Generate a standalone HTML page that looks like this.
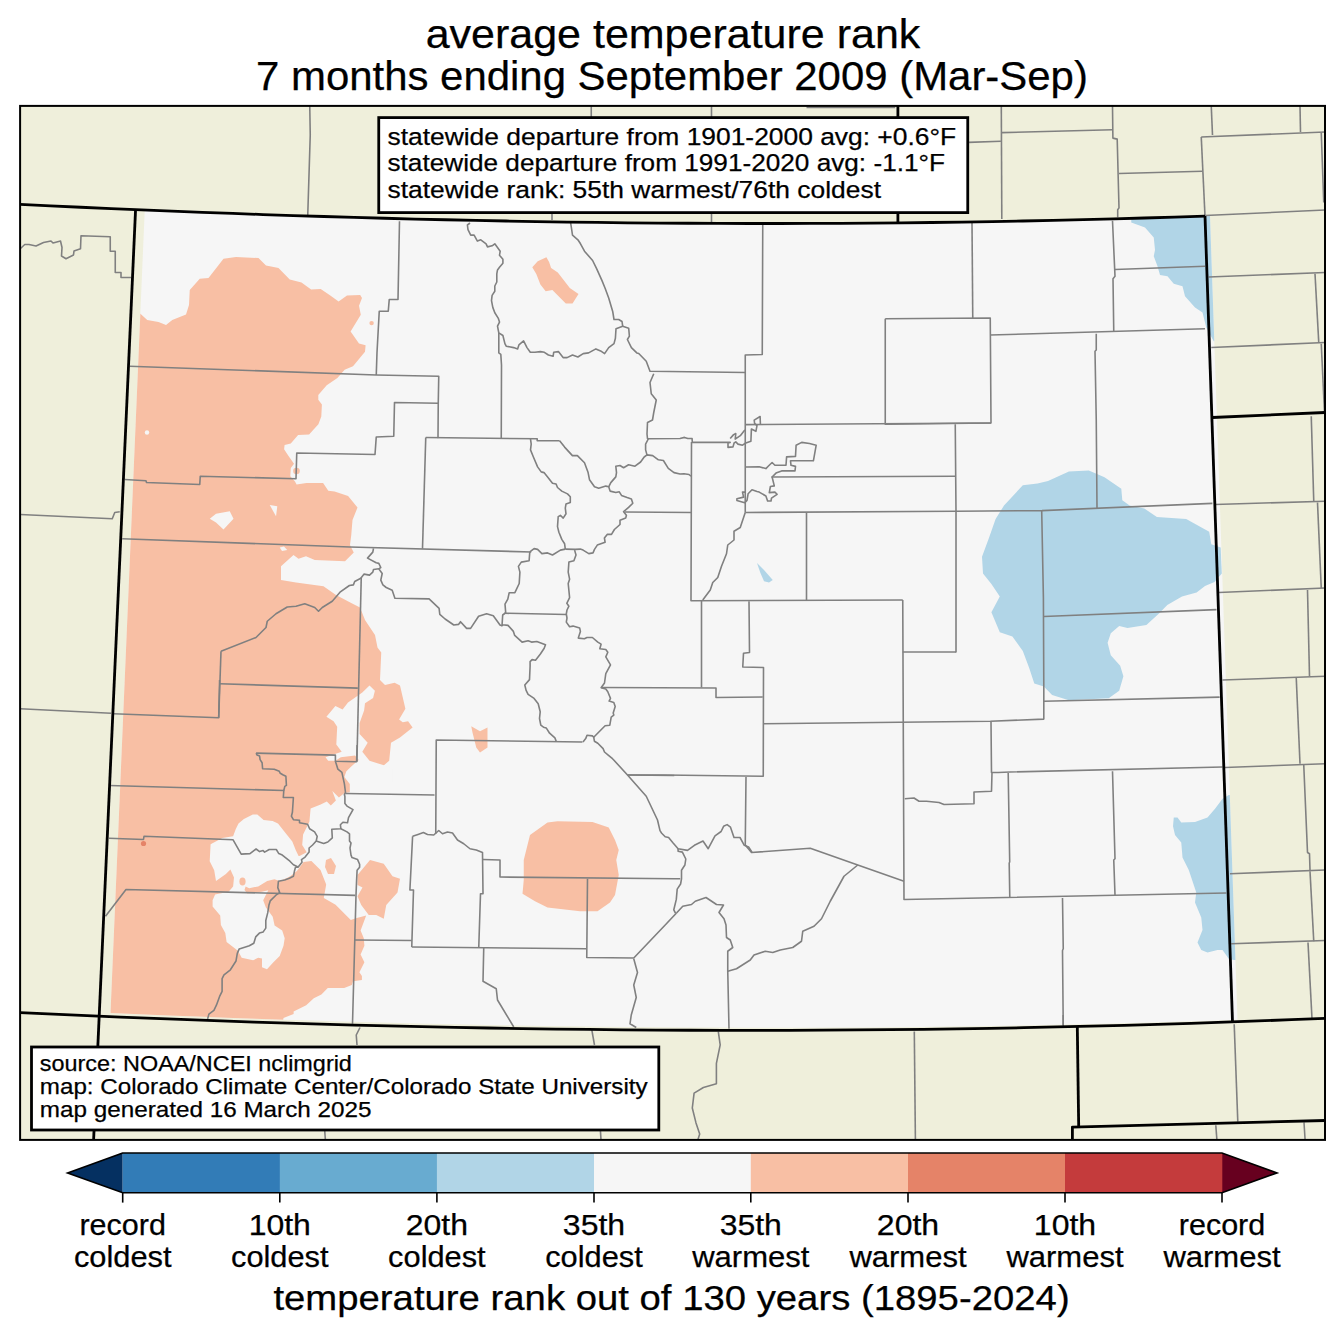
<!DOCTYPE html><html><head><meta charset="utf-8"><style>html,body{margin:0;padding:0;background:#fff;}svg{display:block;} text{font-family:"Liberation Sans",sans-serif;fill:#000;stroke:#000;stroke-width:0.25px;}</style></head><body>
<svg width="1344" height="1337" viewBox="0 0 1344 1337">
<rect width="1344" height="1337" fill="#ffffff"/>
<text x="425.7" y="48" font-size="40.1" textLength="494.6" lengthAdjust="spacingAndGlyphs">average temperature rank</text>
<text x="256" y="90.2" font-size="40.1" textLength="831.86" lengthAdjust="spacingAndGlyphs">7 months ending September 2009 (Mar-Sep)</text>
<defs><clipPath id="fr"><rect x="20" y="105.5" width="1305" height="1034"/></clipPath>
<clipPath id="dc"><polygon points="144.75,210.02 172.06,211.13 199.38,212.21 226.69,213.23 254.01,214.22 281.32,215.15 308.63,216.04 335.95,216.88 363.26,217.67 390.58,218.42 417.89,219.11 445.21,219.76 472.52,220.36 499.83,220.9 527.15,221.4 554.46,221.84 581.78,222.24 609.09,222.58 636.4,222.87 663.72,223.1 691.03,223.28 718.35,223.41 745.66,223.48 772.97,223.5 800.29,223.46 827.6,223.37 854.92,223.22 882.23,223.01 909.54,222.74 936.86,222.42 964.17,222.04 991.49,221.6 1018.8,221.09 1046.12,220.53 1073.43,219.91 1100.74,219.23 1128.06,218.48 1155.37,217.68 1182.69,216.81 1210,215.88 1210,215.88 1237.5,1019.72 1208.6,1020.69 1179.71,1021.59 1150.81,1022.43 1121.91,1023.21 1093.01,1023.92 1064.12,1024.57 1035.22,1025.16 1006.32,1025.68 977.42,1026.15 948.53,1026.55 919.63,1026.89 890.73,1027.17 861.83,1027.39 832.94,1027.55 804.04,1027.65 775.14,1027.69 746.24,1027.67 717.35,1027.59 688.45,1027.45 659.55,1027.26 630.65,1027.01 601.76,1026.7 572.86,1026.33 543.96,1025.91 515.06,1025.43 486.17,1024.9 457.27,1024.31 428.37,1023.67 399.47,1022.97 370.58,1022.21 341.68,1021.41 312.78,1020.54 283.88,1019.63 254.99,1018.66 226.09,1017.64 197.19,1016.57 168.29,1015.44 139.4,1014.27 110.5,1013.04"/></clipPath></defs>
<g clip-path="url(#fr)">
<rect x="0" y="0" width="1344" height="1337" fill="#efefdb"/>
<polygon points="144.75,210.02 172.06,211.13 199.38,212.21 226.69,213.23 254.01,214.22 281.32,215.15 308.63,216.04 335.95,216.88 363.26,217.67 390.58,218.42 417.89,219.11 445.21,219.76 472.52,220.36 499.83,220.9 527.15,221.4 554.46,221.84 581.78,222.24 609.09,222.58 636.4,222.87 663.72,223.1 691.03,223.28 718.35,223.41 745.66,223.48 772.97,223.5 800.29,223.46 827.6,223.37 854.92,223.22 882.23,223.01 909.54,222.74 936.86,222.42 964.17,222.04 991.49,221.6 1018.8,221.09 1046.12,220.53 1073.43,219.91 1100.74,219.23 1128.06,218.48 1155.37,217.68 1182.69,216.81 1210,215.88 1210,215.88 1237.5,1019.72 1208.6,1020.69 1179.71,1021.59 1150.81,1022.43 1121.91,1023.21 1093.01,1023.92 1064.12,1024.57 1035.22,1025.16 1006.32,1025.68 977.42,1026.15 948.53,1026.55 919.63,1026.89 890.73,1027.17 861.83,1027.39 832.94,1027.55 804.04,1027.65 775.14,1027.69 746.24,1027.67 717.35,1027.59 688.45,1027.45 659.55,1027.26 630.65,1027.01 601.76,1026.7 572.86,1026.33 543.96,1025.91 515.06,1025.43 486.17,1024.9 457.27,1024.31 428.37,1023.67 399.47,1022.97 370.58,1022.21 341.68,1021.41 312.78,1020.54 283.88,1019.63 254.99,1018.66 226.09,1017.64 197.19,1016.57 168.29,1015.44 139.4,1014.27 110.5,1013.04" fill="#f6f6f6"/>
<g clip-path="url(#dc)">
<polygon points="140.4,313.75 147.25,320 158.5,322 166,325 172.25,320 186,314.5 189,305 189.75,290 199.75,278.75 208.5,278 223.5,258.75 236,257 258.5,258 266,265.5 278.5,268 289.75,279.5 301.5,282.4 311.1,289.6 320.7,289 330.3,295.6 338.6,301.5 347,295.6 360.2,295 362,298 359,305.7 360.8,314.7 350.6,331.5 359,343.4 365.6,345.2 365,351.8 353,366.2 344.6,369.8 337.4,378.1 326.7,385.3 318.3,394.9 318.3,399.7 321.9,404.5 321.3,416.4 318.4,424.2 312.7,430.4 309.1,434.6 298.1,435.1 290.8,443.4 284.6,445 284.1,449.2 288.2,455.4 294,463.8 290.8,467.9 290.3,476.3 295,481.5 296.6,484.6 306.5,483 323.1,483 328.3,490.8 334.6,491.4 348.1,496 357.5,507.5 352.5,520 351.25,535 350,545 353.75,552.5 345,561.25 314.75,560 306,556.25 298.5,558.75 293.5,555 281,566.25 281,580 296,582.5 323.5,586.25 336,595 350.25,602.5 360,607.5 365,620 375,635 377.5,647.5 381.25,652.5 380,680 385,685 394.6,682.7 400,685.4 405.4,708.7 399.1,719.5 402.7,722.2 408.1,721.3 412.6,727.6 400,737.4 391,742.8 389.2,760.8 383.9,765.3 369.3,782 366,916 360.6,930.6 363.8,938.2 364.4,945.8 360.6,954.6 364.4,962.2 359.4,972.3 361.9,976.1 361.9,979.9 353,981.2 351.8,985 344.2,988.1 327.8,988.1 321.4,994.5 313.8,998.3 306.2,1005.2 293.6,1011.5 293.6,1014.1 283.5,1017.9 280,1040 90,1040 120,313.75" fill="#f8bfa4"/>
<polygon points="392.8,768.5 383.9,765.3 369.5,760.8 362.3,751.8 367.7,742.8 359.6,733.9 359.6,723.1 364.1,710.5 365,703.3 373.1,698 374.9,690.8 369.5,685.4 362.3,692.6 348,702.4 342.6,709.6 335.4,706 326.4,716.8 333.6,721.3 337.2,726.7 336.3,744.6 341.7,751.8 325.5,757.2 328.2,760.8 335.4,760.8 340.8,757.2 355.1,755.4 358.7,759.9 351.5,766.2 346.2,771.5 344.4,776.9 349.8,784.1 349.8,792.2 344.4,793.1 338.9,797.5 336.9,795.5 332.3,791 335.9,800.6 330.8,805.6 326.8,801.6 320.7,804.6 310.6,808.6 309.4,821.8 303.1,834.4 302.2,845.1 306.7,852.3 299.5,855.9 298.6,855.9 295.9,850.5 292.3,841.5 285.1,832.6 278,823.6 272.6,820.9 263.6,820 257.3,814.6 252.8,814.6 243.9,819.1 238.5,823.6 235.8,829 233.1,836.2 222.3,838 210.6,844.2 209.7,861.3 214.2,870.3 216,881 225.9,873.9 230.4,869.4 234,877.5 233.1,886.4 228.6,891.8 215.1,894.5 212.6,900.2 212.6,906.6 220.2,915.4 220.9,924.9 225.3,933.1 226.6,942 237.9,950.8 241.7,957.8 253.1,960.3 258.2,957.8 262,958.4 262,967.3 267,969.2 273.4,962.2 279.7,955.9 283.5,945.8 284.7,938.2 282.2,930.6 274.6,925.5 272.7,916.7 268.9,911.6 265.8,907.2 263.2,900.2 268.3,890.3 261.8,891.8 247.4,893.6 244.5,890 245.6,886.4 249.2,888.2 258.2,886.4 267.2,881 274.4,879.2 279.7,881 286.9,878 290.2,876.2 296.9,871.1 303.6,862.1 311.4,861 320.5,870.1 326.2,884.6 323.8,898.1 335.6,904.8 350.8,919.9 355.8,918.3 372,914 375,782 392.8,782" fill="#f6f6f6"/>
<polygon points="209.75,518.75 216,513.75 229.75,511.25 233.5,518.75 223.5,529.5 216,522.5" fill="#f6f6f6"/>
<polygon points="269.75,505 277.25,506.25 276,516.25" fill="#f6f6f6"/>
<polygon points="279.75,547.5 284,546.5 287.25,550 282,551" fill="#f6f6f6"/>
<circle cx="147" cy="432.5" r="2.2" fill="#f6f6f6"/>
<polygon points="357.5,875 370,860 383.75,863.75 392.5,876.25 400,878.75 397.5,892.5 386.25,905 383.75,918.75 376.25,915 368.75,915 361.25,905 357.5,896.25 362.5,887.5 357.5,885" fill="#f8bfa4"/>
<polygon points="530,835 547.5,822.5 557.5,821.25 592.5,822 608.75,827.5 615,840 618.75,850 616.25,860 618.75,875 615,895 610,902.5 597.5,911.25 580,911.25 547.5,907.5 535,901.25 522.5,893.75 523.75,880 523.75,860" fill="#f8bfa4"/>
<polygon points="532.3,267.2 537.7,261.2 546.4,257.2 549.1,261.9 551.1,267.9 557.8,272.6 569.8,288 578.5,294 572.5,303.4 565.8,303.4 552.4,290 545.7,291.3 540.4,284.6 536.3,273.9" fill="#f8bfa4"/>
<polygon points="471.25,726.25 480,731.25 487.5,727.5 487.5,747.5 480,752.5 476.25,747.5 472.5,732.5" fill="#f8bfa4"/>
<polygon points="326,860 331,858 336,866 334,874 328,874 325,867" fill="#f8bfa4"/>
<circle cx="371.6" cy="323.1" r="2.2" fill="#f8bfa4"/>
<circle cx="296.5" cy="471" r="3.3" fill="#f8bfa4"/>
<ellipse cx="242.5" cy="881.5" rx="3.1" ry="4" fill="#f8bfa4"/>
<circle cx="143.5" cy="843.5" r="2.6" fill="#e58368"/>
<polygon points="1131.25,210 1131.25,222.5 1145,227.5 1153.75,237.5 1155,250 1153.75,256.25 1157.5,266.25 1160,275 1167.5,276.25 1173.75,283.75 1182.5,286.25 1185,296.25 1195,307.5 1202.5,312.5 1206.25,327.5 1213.75,341.25 1240,341 1240,210" fill="#b1d5e7"/>
<polygon points="1022.8,485.2 1037.5,483.5 1048,481 1068.9,471.6 1088.8,470.5 1104.5,477.2 1121.3,488.7 1122.3,500.3 1129.6,505.5 1144.3,508.6 1156.9,517 1186.2,519.1 1209.2,531.7 1211.3,544.2 1220.7,547.4 1221.8,573.6 1214.5,581.9 1205,586.1 1196.6,592.4 1182,596.6 1167.3,605 1159,613.4 1146.4,624.9 1127.5,628 1119.2,625.9 1110.8,633.2 1107.6,642.7 1110.8,655.2 1120.2,665.7 1123.4,676.2 1119.2,690.8 1108.7,698.2 1068.9,700.3 1052.1,695 1043.8,686.6 1034.3,683.5 1029.1,667.8 1022.8,651 1012.4,636.4 999.8,632.2 991.4,612.3 999.8,596.6 991.4,584 983,573.6 982,556.8 989.3,536.9 995.6,519.1 1004,505.5" fill="#b1d5e7"/>
<polygon points="1173.75,817.5 1177.5,817.5 1181.25,822.5 1195,822 1207.5,817.5 1215,808.75 1222.5,798.75 1228.75,795 1245,795 1245,960 1233.75,960 1228.75,958.75 1222.5,950 1217.5,950 1207.5,952.5 1201.25,950 1197.5,942.5 1202.5,930 1201.25,917.5 1195,902.5 1196.25,892.5 1188.75,870 1182.5,857.5 1181.25,842.5 1175,835 1173,826.25" fill="#b1d5e7"/>
<polygon points="757,563 764,570 772.75,580 769,582.5 764,581.25 760.25,572.5" fill="#b1d5e7"/>
</g>
<g fill="none" stroke="#808080" stroke-width="1.6" stroke-linejoin="round">
<polyline points="309.75,106 310.25,135 307.75,215"/>
<polyline points="591.25,106 591.25,118"/>
<polyline points="552,212 552,220"/>
<polyline points="711.5,106 711.5,222.5"/>
<polyline points="806.5,107.5 895.25,107.5"/>
<polyline points="968.4,142.4 1000.9,141.3"/>
<polyline points="1001.3,106 1001.8,219"/>
<polyline points="1001.8,132.6 1112.5,129.8"/>
<polyline points="1112.5,106 1112.9,138.1 1117.2,139.1 1119,207.9 1117.7,209.7 1117.7,217.2"/>
<polyline points="1119,173.5 1202.5,171.25"/>
<polyline points="1211.25,106 1212.5,135"/>
<polyline points="1201.25,137 1205,216.25"/>
<polyline points="1201.25,137 1325,132"/>
<polyline points="1300,106 1300.5,132"/>
<polyline points="1321.25,132.5 1323.75,202.5"/>
<polyline points="1205,215.5 1325,210"/>
<polyline points="1208.75,277 1325,272.5"/>
<polyline points="1315,273.75 1318.75,342.5"/>
<polyline points="1211.25,347.5 1325,342.5"/>
<polyline points="1321.25,343.75 1324.5,412.5"/>
<polyline points="1311.25,416.25 1313.75,501.25"/>
<polyline points="1215,504.5 1325,501.25"/>
<polyline points="1317.5,502.5 1321.25,588"/>
<polyline points="1218.75,592.5 1325,588"/>
<polyline points="1307.5,590 1309.5,676.25"/>
<polyline points="1222.5,680 1325,676.25"/>
<polyline points="1296.25,678 1300,763.75"/>
<polyline points="1225,767.5 1325,763.75"/>
<polyline points="1303.75,765 1307.5,852.5 1309.5,853.75 1310,870"/>
<polyline points="1230,873.75 1325,870"/>
<polyline points="1310,871.25 1313.75,941.25"/>
<polyline points="1231.25,943.75 1325,940.5"/>
<polyline points="1308,942.5 1312,1018.75"/>
<polyline points="1063.2,1015 1063.2,1025.3"/>
<polyline points="1234.2,1024.2 1237.8,1121.6"/>
<polyline points="1215.8,1125.3 1216.9,1140"/>
<polyline points="1304,1122.4 1305.1,1140"/>
<polyline points="914.3,1031.5 915.4,1140"/>
<polyline points="718.3,1031.7 720.2,1044.8 716.4,1063.4 716.4,1083.8 703.4,1087.5 694.1,1093.1 692.3,1108 696,1122.9 699.7,1134 697.8,1140"/>
<polyline points="591.8,1029.9 594.5,1045"/>
<polyline points="600.4,1130.3 601,1140"/>
<polyline points="360,1027.5 356.25,1035 357,1045"/>
<polyline points="324.7,1130.5 325.4,1140"/>
<polyline points="20.25,248.75 24.75,244.5 29,244.5 36,246 43.5,242.5 51,241 53,243 60.5,241 62,247.5 61.5,256 66,258.75 73.5,255 74,251 80.5,248.75 81,235.75 110.25,236.75 110.25,251.25 115.25,251.25 115.25,272.5 121,272.5 121,277.5 131,277.5"/>
<polyline points="20.25,514.5 112.25,518.75 114.75,512.5 119.75,511.75"/>
<polyline points="20.25,708.75 111,713.25"/>
<polyline points="129.75,366.25 376.25,375 438.75,376.25 438.25,403.25 438,437.5 437.5,437.5"/>
<polyline points="399.5,221.25 398,299.5 389.25,299.5 388.25,311.25 379.25,311.25 377,352.5 376.25,375"/>
<polyline points="124.75,479.5 146,480.75 146.5,482.5 199.75,484.5 200.25,476.25 296,478.75 296.75,453 375,454.5 376.25,437 393.75,436.25 394.5,402.5 438.25,403.25"/>
<polyline points="470,223 467.4,225 468,229.7 470.7,235.1 474.1,235.1 477.4,241.1 480.8,239.8 486.1,243.8 487.5,246.9 492.1,245.8 494.8,243.8 500.2,251.2 499.5,255.2 502.9,259.2 502.9,263.2 499.5,267.2 497.5,269.9 496.8,273.9 496.8,282 494.8,286 494.8,291.3 492.1,295.4 491.5,300.7 492.8,307.4 494.8,312.8 498.2,318.1 499.5,322.1 497.5,326.2 498.8,332.9 502.9,335.5 504.9,343.6 506.2,346.2 513.6,347.6 517.6,348.9 518.9,344.9 523.6,340.9 527,347.6 530.3,352.3 535,352.3 540.4,351.6 544.4,352.3 548.4,355 553.1,356.3 553.7,352.3 558.4,351.6 563.1,357.6 567.1,357.6 572.5,355 577.9,357 583.2,353.6 588.6,352.9 595.9,348.9 600.6,350.9 604.6,353.6 608.7,347.6 614,343.6 615.4,338.2 616,328.8 622.7,326.2 622,321.5 618.7,319.5 614,319.5 612.7,311.4 608.7,298 605.3,288.7 602,280.6 596.6,268.6 592.6,260.5 584.5,251.2 580.5,243.8 577.9,239.8 572.5,235.1 571.2,226.4 570.5,222"/>
<polyline points="498.8,332.9 498.8,352.9 500.8,354.3 501.5,365 501.25,438.75"/>
<polyline points="622.7,326.2 628.7,328.2 629.4,336.2 627.4,339.5 631.4,347.6 636.8,352.9 638.75,353.5 646.25,361.25 650,371.25 745.25,372.5"/>
<polyline points="653.75,373.75 650,382.5 651.25,393.75 656.25,400 653.75,412.5 652.5,420 647.5,422.5 647,434 647.5,438.75 680,438.5 684.5,437.4 687.8,438.5 692.1,438.5 692.3,442.4 730.2,442.4 728,443 728,447.4 733,446.9 734.1,443 735.8,441.9 738,444.1 742.5,445.2 745.8,443 750.9,441.3 751.4,429 755.9,431.3 757,425.7 754.6,423.4 754.2,420.1 760.1,416.5 760.4,424"/>
<polyline points="730.2,438.5 733.6,434.6 735.8,433.5 735.2,439.1 740.3,435.7 744.2,430.7 745.5,430.1"/>
<polyline points="762.75,225 762.25,354.5 745.25,355 745.25,512.5"/>
<polyline points="885.25,318.75 990.25,318 991,423 885.25,424.25 885.25,318.75"/>
<polyline points="972,222.5 972.75,318"/>
<polyline points="990.25,335 1205,328.75"/>
<polyline points="745.5,424.6 991,423"/>
<polyline points="955.25,424.25 956,511.25 956,652.5"/>
<polyline points="1112.5,220.75 1115,276.25 1113,278.75 1113.75,331.25"/>
<polyline points="1115,269.5 1205,266.25"/>
<polyline points="1096.25,333.75 1096.25,350 1095,351.25 1096.25,420 1097,508"/>
<polyline points="745.25,512.5 956,511.3 1042,510.6 1212.4,503.4"/>
<polyline points="1041.7,510.7 1043.4,597.6 1043.8,686.6 1043.8,719.1 990.4,721.2 763.25,723.75"/>
<polyline points="1043.8,616.5 1216.5,609.6"/>
<polyline points="1043.8,701.3 1219.7,697.1"/>
<polyline points="991,721.2 991.5,772.5 998.25,772.5 1010,772 1222.5,767"/>
<polyline points="425.75,437.5 537.2,438.8 537.2,440.7 559.6,440.7"/>
<polyline points="425.75,437.5 422.5,548.75"/>
<polyline points="122.25,538.75 350,547 531.25,552"/>
<polyline points="530.5,438.8 531.2,444.2 530.5,449.9 533.4,457 537.6,466.9 541.2,471.9 544,472.6 547.6,476.9 552.5,483.3 556.1,484 557.5,487.5 561.8,491.1 567.5,493.9 570.3,496.8 570.3,502.5 566,503.9 565.3,508.1 566,513.8 563.2,518.1 560.4,515.3 558.2,516.7 557.5,526.6 558.9,532.3 561.8,539.4 564.6,543.7 565.3,549.1"/>
<polyline points="559.6,440.7 564.6,447.1 572.4,455.6 577.4,455.6 584.5,462.7 588.1,472.6 589.5,479.7 594.5,486.8 598.7,488.3 605.8,486.1 608.7,486.8 610.1,491.1 615.8,492.5 619.3,491.8 621.5,495.4 627.1,497.5 631.4,498.9 632.8,503.2 628.6,507.4 623.6,511.7 626.4,515.3 625.7,518.1 620,520.2 620,524.5 614.4,529.5 611.5,534.4 607.2,534.4 604.4,538 605.1,542.2 597.3,545.1 594.5,549.4 593,552.9 588.8,553.6 583.1,550.1 580.3,549.1 575.3,549.4 565.3,549.1"/>
<polyline points="608.7,486.8 610.8,482.6 615.8,476.9 616.5,472.6 615.8,466.2 620,465.5 623.6,467.7 628.6,464.8 635,466.2 640.6,462 644.2,457 647,454.9 652.7,455.6 658.4,459.8 663.4,460.5 668.3,468.4 674,472.6 680,474 684,473.75 689,474.5 691,476.25"/>
<polyline points="647,454.9 645.6,449.9 645.6,444.2 648.5,438.5"/>
<polyline points="625,512 691.7,512.5"/>
<polyline points="691.5,442 691,600.75 902.75,600"/>
<polyline points="745.8,467 759.2,466.7 765.9,468.6 768.7,465.8 772.1,462.5 774.9,465.3 786,465.3 786.6,456.9 795.5,456.4 796.1,445.2 801.7,442.4 809.5,443.5 816.2,445.2 813.4,460.8 790.5,460.8 791,465.3 795.5,466.4 795,470.9 781.6,470.9 776,473.1 772.1,477 774.3,485.9 770.4,486.5 769.3,492.6 774.9,492.1 777.1,494.3 771.5,498.2 771,501 767.6,501 765.9,496 759.2,492.1 757,491.5 752,489.8 748.1,493.8 747,500.4 744.7,502.7 736.9,500.4 736.9,498.8 743.6,497.1 742.5,492.1 745.8,492.1"/>
<polyline points="771.5,477 955.25,476.25"/>
<polyline points="745.25,512.5 740.25,527.5 734,531.25 734,540 727.75,545 726.5,553.75 721.5,566.25 717.75,577.5 712.75,582.5 710.25,590 702.75,600"/>
<polyline points="806.5,512.5 806.5,600.75"/>
<polyline points="902.75,600 904,899.5 1226.25,893"/>
<polyline points="902.75,652 956,652"/>
<polyline points="701.5,600.75 701.5,687.5"/>
<polyline points="749,601.25 749.5,652.5 743.5,653.25 742.75,667 763.5,667.5 763.25,776.25 664,775 627.5,775"/>
<polyline points="601.25,687.5 716,688 716,697.5 762.75,697"/>
<polyline points="529.8,551.9 534.1,548.6 537.6,549.4 541.9,553.6 547.6,552.9 552.5,555 560.4,550.1 565.3,549.1"/>
<polyline points="574.6,550.1 576,555 573.9,560.7 568.9,562.1 568.2,572.1 569.6,579.2 568.2,583.5 569.6,597.7 566.8,603.3 568.9,606.2 567,610 566.3,614 567,618 566.3,622.1 569.6,626.7 573,626.1 579.7,628.1 580.4,631.4 578.3,638.1 584.4,638.8 587,637.5 592.4,637.5 597.8,642.1 601.1,644.2 599.8,648.8 605.8,649.5 607.8,652.2 605.8,656.9 610.5,664.9 605.8,673.6 604.5,683 601.1,687.7 605.8,689 607.8,691.7 610.5,698.4 609.1,701.1 613.8,702.4 615.2,706.4 613.2,713.1 613.8,715.1 611.2,717.1 609.8,725.2 605.1,725.8 593.7,737.2 592.4,735.9 587,735.2 585.7,738.6 583,741.9"/>
<polyline points="593.7,737.2 594.4,741.2 597.8,743.3 603.1,748.6 604.5,752 608.5,755.3 612.5,758.7 613.75,760 627.5,775 646.25,796.25 657.5,820 660,830.6 661.7,833.2 665.2,836.7 668.6,837.5 672.9,842.7 678.1,848.7 687.5,850.4 694.4,845.3 703,841 708.2,848.7 715,835.8 721.1,831.5 723.6,826.3 727.1,824.6 730.5,827.2 734,837.5 740,837.5 744.3,845.3 748.6,847 752,852.1"/>
<polyline points="746,777 745.25,845 751.5,852.5 810.25,848.25 857.75,865 904,881.25"/>
<polyline points="435.75,833.75 436.25,740 582.5,742"/>
<polyline points="529.8,551.9 529.1,560.7 521.3,562.1 518.4,566.4 519.9,572.1 519.2,583.5 514.9,592.7 509.2,592.7 507.8,599.1 505,604.1 505.7,612.6 505,613.25 566.25,614.5"/>
<polyline points="505.4,613 502.7,615 502,625.7 502.7,624.7 508,625.4 513.4,631.4 514.7,635.4 522.1,642.1 528.1,640.8 531.5,642.1 536.8,641.5 545.5,644.8 544.2,648.2 540.2,654.2 535.5,660.2 532.1,659.6 530.1,661.6 530.1,666.2 529.5,679.6 524.8,685 526.1,690.4 528.1,694.4 534.1,698.4 538.2,703.7 540.2,711.8 539.5,718.5 540.8,725.2 543.5,727.2 546.2,727.9 549.6,733.2 554.9,737.9 556.2,741.2"/>
<polyline points="373.5,548.3 372.8,552.1 367.5,558.1 376.2,562.8 378.8,563.4 380.8,567.5 378.8,568.8 380.2,570.8 382.2,573.5 380.8,580.2 382.9,584.9 386.2,587.5 392.2,590.2 394.9,598.3 429.1,598.9 439.1,608.3 439.8,614.3 445.1,619 453.8,625 458.5,624.4 460.5,621.7 466.6,628.4 470.6,628.4 478.6,616.3 486.6,613.7 493.3,615.7 500,625 502,625.7"/>
<polyline points="361.25,577.5 356.9,761.7"/>
<polyline points="219.6,680 218.7,717.7 113.5,713.75"/>
<polyline points="219.75,683.75 357.8,688.1"/>
<polyline points="221,651.25 256,637.5 258.5,635 266,627.5 267.25,621.25 276,613.75 287.25,607 296,606.25 304.75,603.75 314.75,607.5 318.5,611.25 322.25,607.5 332.25,601.25 340,592.2 349.4,585.5 353.4,584.9 354.7,581.5 360.8,578.2 364.1,574.1 369.5,575.1 372.8,572.1 373.5,569.5 378.8,568.8"/>
<polyline points="221,651.25 218.7,717.7"/>
<polyline points="256.1,753.1 335.4,755.1 335.4,761.2 356.6,761.7 357.1,745"/>
<polyline points="256.1,753.1 257.1,755.1 259.6,756.1 260.1,759.6 262.1,762.7 262.6,768.7 274.2,769.2 279.3,771.3 280.3,773.3 282.8,774.8 285.9,776.3 286.4,785.4 284.8,786.4 283.8,790.5"/>
<polyline points="109.5,785.5 283.8,790.5 283.3,797.5 293.4,797.5 292.4,812.2 291.4,816.2 293.4,819.7 299.5,820.3 299.5,822.8 307.6,824.3 309.6,828.8 314.6,831.9 317.2,836.4 316.2,841 312.6,845 309.1,848 309.1,852.1 305.1,857.1 301.5,859.6 302,862.2 298,867.2 295.5,867.2 294.4,871.3 293.4,876.3 289.4,878.3 284.7,880 278.4,881.3 277.8,887.6 279.7,892.6 275.9,895.2 270.2,900.9 268.9,905.3 267.7,912.9 265.8,920.5 265.8,928.1 263.2,931.9 259.4,933.1 255.7,936.9 253.8,943.2 249.3,945.8 245.5,947 239.2,948.9 237.3,953.4 236,961 230.4,969.8 224,974.9 222.1,978.7 222.1,991.3 219.6,996.4 216.4,1005.2 213.9,1010.3 208.9,1014.1 207.6,1019"/>
<polyline points="109,838.25 143.5,839.5 144,836.25 233.1,839.8 241.2,854.1 250,853.6 256.1,849 259.6,851.6 263.1,850.6 264.6,852.1 269.2,849.5 276.3,849.5 278.8,853.6 282.3,855.1 289.9,861.2 293.4,864.7 296.5,866.2 298,867.2"/>
<polyline points="105.5,916.25 126,889.5 355.1,895.4"/>
<polyline points="335.4,761.2 337.9,769.2 341.9,772.3 344.4,783.9 345.5,792.5 344.4,794.5 344.9,796.5 344.9,803.6 347,806.1 353,809.6 348.5,817.7 347.5,822.8 342.9,822.3 340.4,824.8 340.9,828.8 331.8,829.3 332.3,837.9 327.8,842 323.7,843.5 317.7,841.5 316.2,841"/>
<polyline points="340.9,828.8 347,831.9 349.5,833.9 349.5,841 351,843 350,848 351,855.1 352,857.6 357.6,859.6 359.6,864.2 359.6,867.2 357.1,870.3 356.6,880 356,895.4 352.5,1023.75"/>
<polyline points="345.5,793.5 434.5,795"/>
<polyline points="412.6,836.2 418,834.4 423.4,832.6 427.5,834.5 433.75,835 438.75,830.5 442.5,833.75 447.5,832 452.5,833 457.5,840 463.75,843.75 470,848.75 476.25,850 482.5,852.5 483,893.75 480.5,893.75 478.75,947.5"/>
<polyline points="412.6,836.2 409.9,890 413.5,890 411.75,947"/>
<polyline points="355,940 411.75,940.5"/>
<polyline points="411.75,947 586.25,948.75"/>
<polyline points="483,859.5 500,860 500,877 674.25,878.75 680.25,878.75"/>
<polyline points="587.5,878.75 586.75,957.5 633.75,958 664,926.25 676.5,913"/>
<polyline points="483.75,947.5 483,981.25 496.25,988.75 497.5,1000 513.75,1027"/>
<polyline points="633.75,958.75 637.5,972.5 633.75,985 636.25,997.5 631.25,1015 630,1023.75 636.25,1027.5"/>
<polyline points="627.5,775 674.25,775.5"/>
<polyline points="676.5,913 682.75,906.25 691.5,904.5 695.25,901.25 706,897.5 716.5,904.5 723.5,905 719,912.5 724,918.75 726,925 726.5,937.5 730.25,940 732.75,947.5 727.75,951.25 727.75,971.25 729,1028.75"/>
<polyline points="727.75,971.25 736.5,968.75 750.25,960 754,955 765.25,951.25 772.75,952.5 780.25,950 792.75,947.5 801.5,941.25 802.75,931.25 814,926.25 821.5,918.75 830.25,901.25 844,876.25 857.75,865"/>
<polyline points="678.1,848.7 678.1,851.3 682.4,852.1 685.8,859 684.9,865 681.5,870.2 681.5,878.8 680.6,884 677.2,889.1 676.3,899.4 673.8,909.8 675.5,913.2"/>
<polyline points="904.75,798.75 914,798 919,801.25 926.5,801.25 939,802.5 944,804.5 974,803.75 974,792 991.5,791.25 992,772.5"/>
<polyline points="1112.5,771.25 1115,858.75 1113.75,860 1115,895"/>
<polyline points="1008.2,773 1009.7,862 1009.2,863 1009.8,898"/>
<polyline points="1062.5,898 1063.25,948.75 1062.5,950.5 1063.25,1026.25"/>
</g>
<g fill="none" stroke="#000" stroke-width="2.8" stroke-linejoin="round">
<polyline points="20,204.36 50.38,205.82 80.77,207.23 111.15,208.58 141.54,209.88 171.92,211.13 202.31,212.32 232.69,213.45 263.08,214.53 293.46,215.55 323.85,216.51 354.23,217.42 384.62,218.26 415,219.04 445.38,219.76 475.77,220.42 506.15,221.02 536.54,221.56 566.92,222.03 597.31,222.44 627.69,222.78 658.08,223.06 688.46,223.27 718.85,223.41 749.23,223.49 779.62,223.5 810,223.43 840.38,223.3 870.77,223.1 901.15,222.83 931.54,222.49 961.92,222.07 992.31,221.58 1022.69,221.02 1053.08,220.38 1083.46,219.67 1113.85,218.88 1144.23,218.01 1174.62,217.07 1205,216.05"/>
<polyline points="20,1012.6 53.46,1014.15 86.92,1015.63 120.38,1017.05 153.85,1018.4 187.31,1019.68 220.77,1020.89 254.23,1022.03 287.69,1023.1 321.15,1024.1 354.62,1025.03 388.08,1025.88 421.54,1026.67 455,1027.37 488.46,1028.01 521.92,1028.57 555.38,1029.06 588.85,1029.47 622.31,1029.8 655.77,1030.06 689.23,1030.24 722.69,1030.34 756.15,1030.36 789.62,1030.31 823.08,1030.18 856.54,1029.96 890,1029.67 923.46,1029.29 956.92,1028.84 990.38,1028.3 1023.85,1027.68 1057.31,1026.97 1090.77,1026.19 1124.23,1025.31 1157.69,1024.36 1191.15,1023.31 1224.62,1022.19 1258.08,1020.97 1291.54,1019.67 1325,1018.28"/>
<polyline points="135.56,209.63 93.6,1140"/>
<polyline points="1205,216.05 1232.5,1021.91"/>
<polyline points="1212.5,417.5 1325,412.5"/>
<polyline points="897.9,106 897.9,222.5"/>
<polyline points="1077.3,1026.52 1078.7,1126.5"/>
<polyline points="1072.4,1140 1072.4,1127.1 1325,1120.5"/>
</g>
</g>
<rect x="20.1" y="105.9" width="1304.9" height="1034" fill="none" stroke="#000" stroke-width="2"/>
<rect x="378.75" y="117.6" width="589" height="95" fill="#fff" stroke="#000" stroke-width="2.8"/>
<text x="387.5" y="145" font-size="24.5" textLength="568.64" lengthAdjust="spacingAndGlyphs">statewide departure from 1901-2000 avg: +0.6°F</text>
<text x="387.5" y="171.2" font-size="24.5" textLength="557.47" lengthAdjust="spacingAndGlyphs">statewide departure from 1991-2020 avg: -1.1°F</text>
<text x="387.5" y="197.5" font-size="24.5" textLength="493.52" lengthAdjust="spacingAndGlyphs">statewide rank: 55th warmest/76th coldest</text>
<rect x="31.5" y="1047" width="627.3" height="83" fill="#fff" stroke="#000" stroke-width="2.8"/>
<text x="39.8" y="1070.7" font-size="22.9" textLength="312.09" lengthAdjust="spacingAndGlyphs">source: NOAA/NCEI nclimgrid</text>
<text x="39.8" y="1094" font-size="22.9" textLength="607.83" lengthAdjust="spacingAndGlyphs">map: Colorado Climate Center/Colorado State University</text>
<text x="39.8" y="1117.3" font-size="22.9" textLength="331.68" lengthAdjust="spacingAndGlyphs">map generated 16 March 2025</text>
<polygon points="122.7,1153.0 67.6,1172.9 122.7,1192.8" fill="#053061"/>
<polygon points="1222,1153.0 1277,1172.9 1222,1192.8" fill="#67001f"/>
<rect x="122.7" y="1153.0" width="157.4" height="39.8" fill="#327cb7"/>
<rect x="279.8" y="1153.0" width="157.4" height="39.8" fill="#68abd0"/>
<rect x="436.9" y="1153.0" width="157.4" height="39.8" fill="#b1d5e7"/>
<rect x="594.0" y="1153.0" width="157.1" height="39.8" fill="#f6f6f6"/>
<rect x="750.8" y="1153.0" width="157.5" height="39.8" fill="#f8bfa4"/>
<rect x="908.0" y="1153.0" width="157.3" height="39.8" fill="#e58368"/>
<rect x="1065.0" y="1153.0" width="157.3" height="39.8" fill="#c43b3c"/>
<polygon points="122.7,1153.0 67.6,1172.9 122.7,1192.8 1222,1192.8 1277,1172.9 1222,1153.0" fill="none" stroke="#000" stroke-width="1.6" stroke-linejoin="miter"/>
<line x1="122.7" y1="1192.8" x2="122.7" y2="1202.6" stroke="#000" stroke-width="1.6"/>
<line x1="279.8" y1="1192.8" x2="279.8" y2="1202.6" stroke="#000" stroke-width="1.6"/>
<line x1="436.9" y1="1192.8" x2="436.9" y2="1202.6" stroke="#000" stroke-width="1.6"/>
<line x1="594.0" y1="1192.8" x2="594.0" y2="1202.6" stroke="#000" stroke-width="1.6"/>
<line x1="750.8" y1="1192.8" x2="750.8" y2="1202.6" stroke="#000" stroke-width="1.6"/>
<line x1="908.0" y1="1192.8" x2="908.0" y2="1202.6" stroke="#000" stroke-width="1.6"/>
<line x1="1065.0" y1="1192.8" x2="1065.0" y2="1202.6" stroke="#000" stroke-width="1.6"/>
<line x1="1222.0" y1="1192.8" x2="1222.0" y2="1202.6" stroke="#000" stroke-width="1.6"/>
<text x="79.46" y="1234.7" font-size="29" textLength="86.48" lengthAdjust="spacingAndGlyphs">record</text>
<text x="73.93" y="1267.1" font-size="29" textLength="97.53" lengthAdjust="spacingAndGlyphs">coldest</text>
<text x="248.68" y="1234.7" font-size="29" textLength="62.23" lengthAdjust="spacingAndGlyphs">10th</text>
<text x="231.03" y="1267.1" font-size="29" textLength="97.53" lengthAdjust="spacingAndGlyphs">coldest</text>
<text x="405.78" y="1234.7" font-size="29" textLength="62.23" lengthAdjust="spacingAndGlyphs">20th</text>
<text x="388.13" y="1267.1" font-size="29" textLength="97.53" lengthAdjust="spacingAndGlyphs">coldest</text>
<text x="562.88" y="1234.7" font-size="29" textLength="62.23" lengthAdjust="spacingAndGlyphs">35th</text>
<text x="545.23" y="1267.1" font-size="29" textLength="97.53" lengthAdjust="spacingAndGlyphs">coldest</text>
<text x="719.68" y="1234.7" font-size="29" textLength="62.23" lengthAdjust="spacingAndGlyphs">35th</text>
<text x="692.23" y="1267.1" font-size="29" textLength="117.14" lengthAdjust="spacingAndGlyphs">warmest</text>
<text x="876.88" y="1234.7" font-size="29" textLength="62.23" lengthAdjust="spacingAndGlyphs">20th</text>
<text x="849.43" y="1267.1" font-size="29" textLength="117.14" lengthAdjust="spacingAndGlyphs">warmest</text>
<text x="1033.88" y="1234.7" font-size="29" textLength="62.23" lengthAdjust="spacingAndGlyphs">10th</text>
<text x="1006.43" y="1267.1" font-size="29" textLength="117.14" lengthAdjust="spacingAndGlyphs">warmest</text>
<text x="1178.76" y="1234.7" font-size="29" textLength="86.48" lengthAdjust="spacingAndGlyphs">record</text>
<text x="1163.43" y="1267.1" font-size="29" textLength="117.14" lengthAdjust="spacingAndGlyphs">warmest</text>
<text x="273.4" y="1310.3" font-size="35.7" textLength="796.25" lengthAdjust="spacingAndGlyphs">temperature rank out of 130 years (1895-2024)</text>
</svg></body></html>
